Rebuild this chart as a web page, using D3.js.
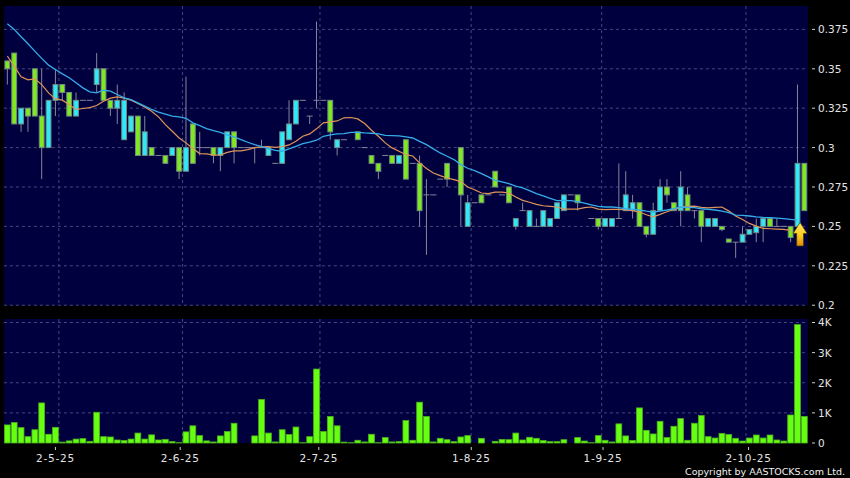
<!DOCTYPE html>
<html><head><meta charset="utf-8">
<script src="https://cdnjs.cloudflare.com/ajax/libs/d3/7.8.5/d3.min.js"></script>
<style>html,body{margin:0;padding:0;background:#000}svg{display:block}text{font-family:"DejaVu Sans",sans-serif}</style>
</head><body><svg id="c" width="850" height="478"></svg>
<script>
const N=null;
const opens=[.355,.36,.315,.325,.35,.32,.30,.33,.34,.335,.32,.33,.33,.34,.35,.33,.325,.305,.31,.32,.295,.30,.295,.295,.295,.30,.285,.315,.30,.30,
.30,.295,.30,.31,.30,.30,.30,.30,.295,.29,.29,.305,.315,.33,.32,.33,.33,.33,.30,.305,N,.31,.30,.295,.29,.295,.295,.29,.305,.29,
.29,.27,.27,.28,.29,N,.30,.25,.265,.27,.27,.285,.27,.275,.25,.26,.25,.25,.25,.25,.255,.26,.27,.27,N,.255,.255,.25,.25,.255,
.26,.26,.265,.25,.245,.26,.275,.265,.26,.27,.26,.26,.25,.25,.25,.242,.24,.24,.245,.246,.25,.255,.25,.25,.25,.25,.29];
const highs=[.355,.36,.325,.325,.35,.35,.33,.35,.34,.335,.335,.33,.33,.36,.35,.33,.34,.335,.32,.32,.32,.30,.295,.295,.30,.30,.345,.315,.31,.30,
.30,.30,.31,.31,.30,.30,.30,.305,.30,.29,.31,.33,.33,.33,.32,.38,.33,.33,.305,.305,N,.31,.30,.295,.29,.295,.295,.295,.305,.29,
.295,.28,.27,.28,.29,N,.30,.27,.265,.27,.27,.285,.27,.275,.255,.265,.26,.255,.26,.255,.265,.27,.27,.27,N,.255,.255,.255,.255,.29,
.285,.27,.265,.25,.265,.28,.28,.265,.285,.275,.26,.26,.255,.255,.25,.242,.24,.25,.248,.255,.255,.255,.255,.25,.25,.34,.29];
const lows=[.34,.315,.31,.31,.32,.28,.30,.32,.33,.32,.32,.33,.33,.335,.33,.32,.315,.305,.31,.295,.295,.295,.295,.29,.295,.28,.285,.29,.295,.30,
.29,.285,.30,.29,.30,.30,.29,.30,.295,.29,.29,.305,.315,.33,.315,.325,.33,.305,.295,.305,N,.305,.30,.29,.28,.295,.29,.29,.28,.29,
.25,.232,.27,.28,.275,N,.25,.25,.265,.265,.27,.275,.27,.265,.248,.26,.25,.25,.25,.25,.255,.26,.27,.26,N,.255,.248,.25,.25,.255,
.26,.255,.25,.243,.245,.26,.265,.26,.25,.26,.255,.24,.25,.25,.247,.24,.23,.24,.245,.24,.24,.25,.25,.25,.24,.25,.26];
const closes=[.35,.315,.325,.32,.32,.30,.33,.34,.335,.32,.33,.33,.33,.35,.33,.325,.33,.33,.32,.295,.31,.295,.295,.29,.30,.285,.30,.29,.30,.30,
.295,.30,.31,.30,.30,.30,.30,.30,.30,.29,.31,.315,.33,.33,.32,.33,.33,.31,.305,.305,N,.305,.30,.29,.285,.295,.29,.295,.28,.29,
.26,.27,.27,.28,.28,N,.27,.265,.265,.265,.27,.275,.27,.265,.255,.26,.26,.25,.26,.255,.265,.27,.27,.265,N,.255,.25,.255,.255,.255,
.27,.265,.25,.245,.26,.275,.27,.26,.275,.26,.26,.25,.255,.255,.248,.24,.24,.245,.248,.25,.255,.25,.25,.25,.243,.29,.26];
const maLong=[.3786,.375,.3703,.3659,.3612,.3566,.3523,.3496,.3468,.3443,.3411,.3379,.3354,.3347,.3364,.3358,.3337,.3316,.3305,.3284,.3263,.3242,.3225,.3212,.32,.3195,.3186,.3157,.314,.3121,
.3108,.3097,.3081,.3068,.3051,.3034,.3019,.3006,.2994,.2983,.2977,.2992,.3008,.3025,.3034,.3047,.3072,.3081,.3087,.3089,.3097,.3097,.3093,.3091,.3087,.3078,.3076,.3074,.3068,.3061,
.304,.3019,.2992,.2966,.2945,.2924,.2892,.2869,.2854,.2835,.2814,.2792,.2782,.2771,.2756,.2744,.2727,.2708,.2693,.2678,.2663,.2665,.2663,.2657,.2648,.2636,.2627,.2623,.2623,.2619,
.2612,.2608,.2604,.2597,.2591,.2597,.2604,.2612,.2623,.2621,.2619,.2612,.2608,.2604,.2597,.2587,.2572,.257,.2566,.2561,.2557,.2555,.2553,.2549,.2544,.254];
const maShort=[.3581,.3517,.3449,.343,.3436,.34,.3347,.3309,.3301,.3273,.3242,.3248,.3254,.3267,.3294,.3314,.3322,.3314,.3301,.328,.3258,.3231,.3195,.3146,.3104,.3061,.303,.2994,.2962,.296,
.2953,.2953,.297,.2979,.2979,.2987,.3,.3004,.3006,.3002,.3006,.3017,.304,.3072,.3087,.3119,.3157,.3163,.3169,.3189,.3191,.3182,.3153,.311,.3072,.303,.2998,.2977,.2955,.2947,
.2903,.2867,.2839,.2822,.2807,.2797,.2784,.275,.2733,.2712,.2708,.2718,.2718,.2712,.2686,.2665,.2653,.264,.2631,.2627,.2623,.261,.261,.261,.2619,.2623,.261,.2606,.2608,.2608,
.2604,.26,.2591,.2574,.2561,.2576,.2593,.2608,.2619,.2627,.2629,.2621,.2617,.2621,.2623,.2597,.2566,.2544,.2519,.2502,.2487,.2485,.2483,.2481,.2475];
const volumes=[600,680,510,210,440,1330,290,520,30,70,130,145,55,1020,210,200,100,80,130,330,130,270,100,120,45,10,370,570,245,70,
35,235,380,655,0,0,235,1445,330,35,440,280,530,10,210,2455,380,880,570,30,10,90,35,290,10,180,35,45,745,90,
1355,880,35,155,110,45,200,245,0,155,0,55,120,110,330,100,190,155,80,45,45,110,0,180,65,10,245,90,35,635,
235,80,1165,420,300,720,180,555,810,90,655,910,210,165,320,280,155,65,165,265,165,265,100,65,930,3930,880];
const priceTicks=[0.2,0.225,0.25,0.275,0.3,0.325,0.35,0.375];
const priceLabels=["0.2","0.225","0.25","0.275","0.3","0.325","0.35","0.375"];
const volumeTicks=[0,1000,2000,3000,4000];
const volumeLabels=["0","1K","2K","3K","4K"];
const dateIndex=[8,26,46,68,87,108];
const dateLabels=["2-5-25","2-6-25","2-7-25","1-8-25","1-9-25","2-10-25"];
const signalBar=115;

const svg=d3.select("#c");
const idx=d3.range(opens.length);
const x=d3.scaleBand().domain(idx).range([3.9,807.8]);
const xc=i=>x(i)+x.bandwidth()/2;
const xLabel=d3.scaleLinear().domain([0,116]).range([0,804]);
const y=d3.scaleLinear().domain([.2,.375]).range([305.2,29.4]);
const yv=d3.scaleLinear().domain([0,4000]).range([443,322.5]);
const P1={t:6,b:305.5}, P2={t:319,b:443}, L=3.9, R=807.8;
const GRID="#46467f", BG="#00003f", GREY="#85859a", TXT="#e4e4e4";

svg.append("rect").attr("width",850).attr("height",478).attr("fill","#000");
[P1,P2].forEach(p=>svg.append("rect").attr("x",L).attr("y",p.t).attr("width",R-L).attr("height",p.b-p.t).attr("fill",BG));

function hgrid(vals,sc){svg.append("g").selectAll("line").data(vals).join("line")
 .attr("x1",L).attr("x2",R).attr("y1",d=>sc(d)).attr("y2",d=>sc(d))
 .attr("stroke",GRID).attr("stroke-width",1).attr("stroke-dasharray","3,3");}
hgrid(priceTicks,y); hgrid(volumeTicks.slice(1),yv);
[P1,P2].forEach(p=>svg.append("g").selectAll("line").data(dateIndex).join("line")
 .attr("x1",d=>x(d)).attr("x2",d=>x(d)).attr("y1",p.t).attr("y2",p.b)
 .attr("stroke",GRID).attr("stroke-width",1).attr("stroke-dasharray","3,3"));

// candles
const valid=idx.filter(i=>opens[i]!==null);
const UP="#2fe8f8", DOWN="#80e820", EDGE="#6f8a80";
const g=svg.append("g");
g.selectAll("line.w").data(valid).join("line").attr("class","w")
 .attr("x1",xc).attr("x2",xc).attr("y1",i=>y(highs[i])).attr("y2",i=>y(lows[i]))
 .attr("stroke",GREY).attr("stroke-width",1);
const isDoji=i=>opens[i]===closes[i];
g.selectAll("line.d").data(valid.filter(isDoji)).join("line").attr("class","d")
 .attr("x1",i=>xc(i)-3).attr("x2",i=>xc(i)+3).attr("y1",i=>y(opens[i])).attr("y2",i=>y(opens[i]))
 .attr("stroke",GREY).attr("stroke-width",1);
g.selectAll("rect").data(valid.filter(i=>!isDoji(i))).join("rect")
 .attr("x",i=>xc(i)-2.4).attr("width",4.8)
 .attr("y",i=>y(Math.max(opens[i],closes[i])))
 .attr("height",i=>Math.abs(y(opens[i])-y(closes[i])))
 .attr("fill",i=>closes[i]>opens[i]?UP:DOWN).attr("stroke",EDGE).attr("stroke-width",1);

// moving averages
const line=d3.line().x((d,i)=>xc(i)).y(d=>y(d)).curve(d3.curveLinear);
svg.append("path").attr("d",line(maShort)).attr("fill","none").attr("stroke","#e09558").attr("stroke-width",1.2);
svg.append("path").attr("d",line(maLong)).attr("fill","none").attr("stroke","#34ace8").attr("stroke-width",1.3);

// arrow
const defs=svg.append("defs");
const gr=defs.append("linearGradient").attr("id","ar").attr("x1",0).attr("x2",0).attr("y1",0).attr("y2",1);
gr.append("stop").attr("offset","0").attr("stop-color","#ffe860");
gr.append("stop").attr("offset",".55").attr("stop-color","#ffcc20");
gr.append("stop").attr("offset","1").attr("stop-color","#e08a08");
const ax=xc(signalBar)+2.6, ay=y(.2525);
const arrow=d3.path();
[[7,11],[3.4,11],[3.4,23.5],[-3.4,23.5],[-3.4,11],[-7,11]].reduce((p,[dx,dy])=>{p.lineTo(ax+dx,ay+dy);return p;},(arrow.moveTo(ax,ay),arrow));
arrow.closePath();
svg.append("path").attr("d",arrow.toString()).attr("fill","url(#ar)").attr("stroke","#4a3a0c").attr("stroke-width",.7);

// volume
svg.append("g").selectAll("rect").data(idx).join("rect")
 .attr("x",i=>xc(i)-2.9).attr("width",5.8)
 .attr("y",i=>yv(volumes[i])).attr("height",i=>yv(0)-yv(volumes[i]))
 .attr("fill","#66ff10").attr("stroke","#4db020").attr("stroke-width",.8);

// right axes
function rightAxis(vals,labels,sc){
 const a=svg.append("g");
 a.selectAll("line").data(vals).join("line").attr("x1",812).attr("x2",815).attr("y1",d=>sc(d)).attr("y2",d=>sc(d)).attr("stroke","#ccc");
 a.selectAll("text").data(vals).join("text").attr("x",818).attr("y",d=>sc(d)+3.9)
  .attr("font-size",10.5).attr("fill",TXT).text((d,i)=>labels[i]);
}
rightAxis(priceTicks,priceLabels,y);
rightAxis(volumeTicks,volumeLabels,yv);

// date axis
const ax2=svg.append("g");
ax2.selectAll("line").data(dateIndex).join("line").attr("x1",d=>xLabel(d)).attr("x2",d=>xLabel(d)).attr("y1",447).attr("y2",450).attr("stroke","#ccc");
ax2.selectAll("text").data(dateIndex).join("text").attr("x",d=>xLabel(d)).attr("y",462).attr("text-anchor","middle")
 .attr("font-size",10.5).attr("letter-spacing",.75).attr("fill",TXT).text((d,i)=>dateLabels[i]);
svg.append("text").attr("x",845).attr("y",475).attr("text-anchor","end").attr("font-size",9.5).attr("fill","#f0f0f0").text("Copyright by AASTOCKS.com Ltd.");
</script></body></html>
